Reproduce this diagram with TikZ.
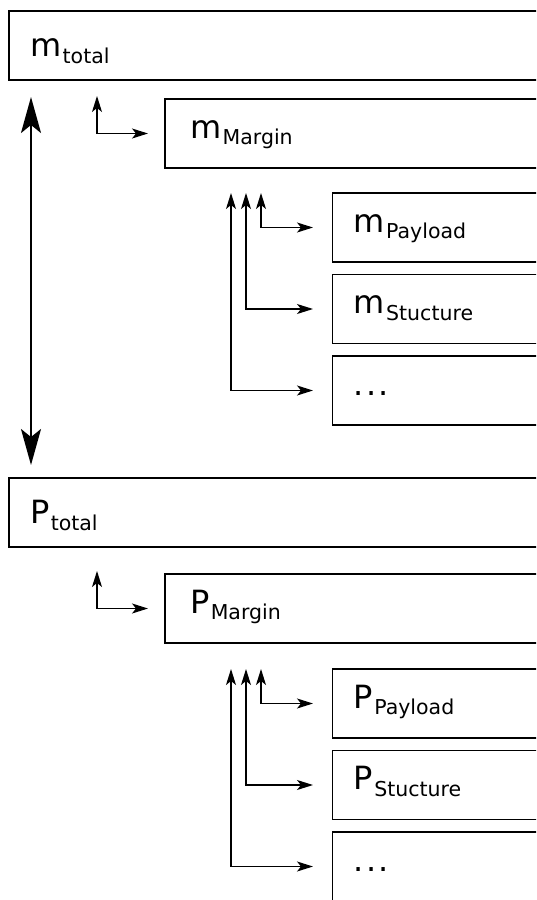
\documentclass[tikz,border=0pt]{standalone}
\usepackage{fontspec}
\setmainfont{DejaVu Sans}
\usetikzlibrary{positioning,arrows.meta,calc}

\newcommand{\vlabel}[2]{#1\kern1.5pt\raisebox{-6.5pt}{\fontsize{20.5}{20.5}\selectfont #2}}

\begin{document}
\begin{tikzpicture}[x=1pt,y=-1pt,
  box/.style={draw,line width=1.3pt,outer sep=0pt,anchor=north west,
    minimum height=69pt,text width=560pt,align=left,inner xsep=21pt,
    font=\fontsize{32}{32}\selectfont,text height=9pt,text depth=0pt},
  totalbox/.style={box,text height=22pt},
  marginbox/.style={box,inner xsep=25pt},
  flow/.style={line width=1.3pt,
    {Stealth[length=16pt,width=10pt,inset=4pt]}-{Stealth[length=16pt,width=10pt,inset=4pt]}},
  link/.style={line width=2pt,
    {Stealth[length=36pt,width=20pt,inset=8pt]}-{Stealth[length=36pt,width=20pt,inset=8pt]}}]
\useasboundingbox (0,0) rectangle (536,900);
\clip (0,0) rectangle (536,900);

% mass budget
\node[totalbox] (mtot) at (9,11) {\vlabel{m}{total}};
\node[marginbox] (mmar) at (165,99) {\vlabel{m}{Margin}};
\node[box] (mpay) at (332.5,193) {\vlabel{m}{Payload}};
\node[box,below=12.5pt of mpay] (mstr) {\vlabel{m}{Stucture}};
\node[box,below=12.5pt of mstr] (mdots) {.\kern2.5pt.\kern2.5pt.};

% power budget
\node[totalbox] (ptot) at (9,478) {\vlabel{P}{total}};
\node[marginbox] (pmar) at (165,574) {\vlabel{P}{Margin}};
\node[box] (ppay) at (332.5,669) {\vlabel{P}{Payload}};
\node[box,below=12.5pt of ppay] (pstr) {\vlabel{P}{Stucture}};
\node[box,below=12.5pt of pstr] (pdots) {.\kern2.5pt.\kern2.5pt.};

\coordinate (mlink) at ($(mtot.south west)+(22,17)$);
\coordinate (plink) at ($(ptot.north west)+(22,-13)$);
\draw[link] (mlink) -- (plink);

\foreach \s in {m,p}{
  \coordinate (\s marup) at ($(\s mar.north west)+(-68,-3)$);
  \draw[flow,shorten >=17pt] (\s marup) |- (\s mar.west);
  \foreach \dx/\b [count=\i] in {-71.5/pay,-86.5/str,-101.5/dots}{
    \coordinate (\s up\i) at ($(\s pay.north west)+(\dx,0)$);
    \draw[flow,shorten >=19.5pt] (\s up\i) |- (\s\b.west);
  }
}
\end{tikzpicture}
\end{document}
